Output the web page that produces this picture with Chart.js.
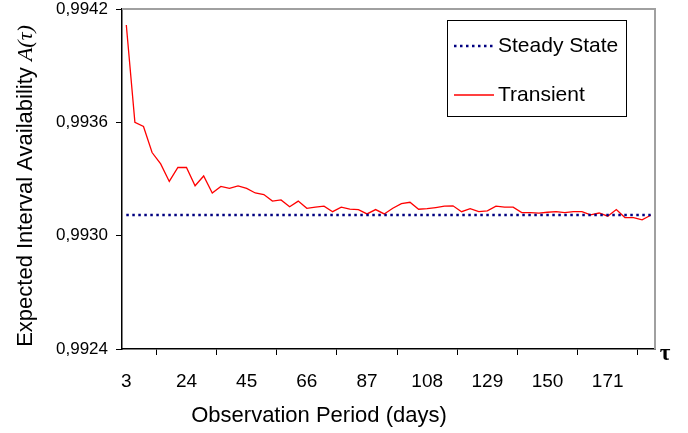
<!DOCTYPE html>
<html>
<head>
<meta charset="utf-8">
<script src="https://cdn.jsdelivr.net/npm/chart.js@4/dist/chart.umd.min.js"></script>
<style>
  body { margin: 0; background: #fff; }
  canvas { display: block; }
</style>
</head>
<body>
<canvas id="chart" width="688" height="433"></canvas>
<script>
// observation period, every 3 days
const days = [3, 6, 9, 12, 15, 18, 21, 24, 27, 30, 33, 36, 39, 42, 45, 48, 51, 54, 57, 60,
  63, 66, 69, 72, 75, 78, 81, 84, 87, 90, 93, 96, 99, 102, 105, 108, 111, 114, 117, 120,
  123, 126, 129, 132, 135, 138, 141, 144, 147, 150, 153, 156, 159, 162, 165, 168, 171, 174, 177, 180,
  183, 186];

const transient = [0.994115, 0.993600, 0.993578, 0.993440, 0.993380, 0.993287, 0.993361, 0.993361, 0.993264, 0.993316,
  0.993226, 0.993261, 0.993250, 0.993263, 0.993250, 0.993226, 0.993218, 0.993183, 0.993189, 0.993153,
  0.993183, 0.993145, 0.993151, 0.993156, 0.993127, 0.993151, 0.993140, 0.993138, 0.993115, 0.993138,
  0.993115, 0.993145, 0.993170, 0.993177, 0.993140, 0.993143, 0.993149, 0.993156, 0.993158, 0.993127,
  0.993143, 0.993127, 0.993131, 0.993156, 0.993151, 0.993151, 0.993122, 0.993122, 0.993119, 0.993124,
  0.993127, 0.993122, 0.993127, 0.993127, 0.993110, 0.993120, 0.993103, 0.993138, 0.993096, 0.993096,
  0.993084, 0.993108];

const steadyState = [0.99311, 0.99311, 0.99311, 0.99311, 0.99311, 0.99311, 0.99311, 0.99311, 0.99311, 0.99311,
  0.99311, 0.99311, 0.99311, 0.99311, 0.99311, 0.99311, 0.99311, 0.99311, 0.99311, 0.99311,
  0.99311, 0.99311, 0.99311, 0.99311, 0.99311, 0.99311, 0.99311, 0.99311, 0.99311, 0.99311,
  0.99311, 0.99311, 0.99311, 0.99311, 0.99311, 0.99311, 0.99311, 0.99311, 0.99311, 0.99311,
  0.99311, 0.99311, 0.99311, 0.99311, 0.99311, 0.99311, 0.99311, 0.99311, 0.99311, 0.99311,
  0.99311, 0.99311, 0.99311, 0.99311, 0.99311, 0.99311, 0.99311, 0.99311, 0.99311, 0.99311,
  0.99311, 0.99311];

const xTickLabels = ['3', '24', '45', '66', '87', '108', '129', '150', '171'];
const yTicks = [0.9924, 0.9930, 0.9936, 0.9942];

const SANS = '"Liberation Sans", Arial, sans-serif';
const SERIF = '"Liberation Serif", "DejaVu Serif", serif';

// titles, the tau mark, the grey frame and the boxed legend
const extras = {
  id: 'extras',
  beforeDatasetsDraw(chart) {
    const { ctx, chartArea: a } = chart;
    ctx.save();
    ctx.strokeStyle = '#a0a0a0';
    ctx.lineWidth = 2;
    ctx.beginPath();
    ctx.moveTo(a.left, a.top);
    ctx.lineTo(a.right, a.top);
    ctx.lineTo(a.right, a.bottom);
    ctx.stroke();
    ctx.restore();
  },
  afterDraw(chart) {
    const { ctx } = chart;
    ctx.save();
    ctx.fillStyle = '#000';

    // x title
    ctx.font = '22px ' + SANS;
    ctx.textAlign = 'center';
    ctx.textBaseline = 'middle';
    ctx.fillText('Observation Period (days)', 319, 416);

    // tau at the end of the x axis
    ctx.font = 'bold 23px ' + SERIF;
    ctx.fillText('τ', 665, 354);

    // y title with italic A(τ)
    const t1 = 'Expected Interval Availability ';
    const t2 = 'A(τ)';
    ctx.font = '22px ' + SANS;
    const w1 = ctx.measureText(t1).width;
    ctx.font = 'italic 22px ' + SERIF;
    const w2 = ctx.measureText(t2).width;
    ctx.translate(26, 186);
    ctx.rotate(-Math.PI / 2);
    ctx.textAlign = 'left';
    ctx.font = '22px ' + SANS;
    ctx.fillText(t1, -(w1 + w2) / 2, 0);
    ctx.font = 'italic 22px ' + SERIF;
    ctx.fillText(t2, -(w1 + w2) / 2 + w1, 0);
    ctx.restore();

    // legend box
    ctx.save();
    ctx.strokeStyle = '#000';
    ctx.lineWidth = 1;
    ctx.strokeRect(447.5, 20.5, 179, 96);
    const rows = [46, 95];
    chart.data.datasets.forEach((ds, i) => {
      const y = rows[i];
      ctx.strokeStyle = ds.borderColor;
      ctx.lineWidth = ds.borderWidth;
      ctx.setLineDash(ds.borderDash || []);
      ctx.beginPath();
      ctx.moveTo(454, y);
      ctx.lineTo(494, y);
      ctx.stroke();
      ctx.setLineDash([]);
      ctx.fillStyle = '#000';
      ctx.font = '21px ' + SANS;
      ctx.textAlign = 'left';
      ctx.textBaseline = 'middle';
      ctx.fillText(ds.label, 498, y);
    });
    ctx.restore();
  }
};

new Chart(document.getElementById('chart'), {
  type: 'line',
  data: {
    labels: days,
    datasets: [
      {
        label: 'Steady State',
        data: steadyState,
        borderColor: '#000080',
        borderWidth: 2.5,
        borderDash: [2.5, 3.5],
        pointRadius: 0,
        fill: false
      },
      {
        label: 'Transient',
        data: transient,
        borderColor: '#ff0000',
        borderWidth: 1.3,
        pointRadius: 0,
        tension: 0,
        fill: false
      }
    ]
  },
  options: {
    responsive: false,
    animation: false,
    events: [],
    layout: { padding: { left: 0, top: 9, right: 33, bottom: 0 } },
    plugins: {
      legend: { display: false },
      tooltip: { enabled: false }
    },
    scales: {
      x: {
        type: 'category',
        offset: true,
        afterFit: s => { s.height = 84; },
        border: { color: '#000', width: 1.5 },
        grid: { offset: true, drawOnChartArea: false, drawTicks: true, tickLength: 6, color: '#000' },
        ticks: {
          autoSkip: false,
          maxRotation: 0,
          padding: 15,
          color: '#000',
          font: { family: SANS, size: 19 },
          callback: function (value, index) {
            const lab = String(days[index]);
            return xTickLabels.includes(lab) ? lab : null;
          }
        }
      },
      y: {
        min: 0.9924,
        max: 0.9942,
        afterFit: s => { s.width = 122; },
        afterBuildTicks: s => { s.ticks = yTicks.map(v => ({ value: v })); },
        border: { color: '#000', width: 1.5 },
        grid: { drawOnChartArea: false, drawTicks: true, tickLength: 6, color: '#000' },
        ticks: {
          padding: 8,
          color: '#000',
          // tiny line height keeps the top label from pushing the plot down
          font: { family: SANS, size: 17, lineHeight: 0.1 },
          callback: v => v.toFixed(4).replace('.', ',')
        }
      }
    }
  },
  plugins: [extras]
});
</script>
</body>
</html>
